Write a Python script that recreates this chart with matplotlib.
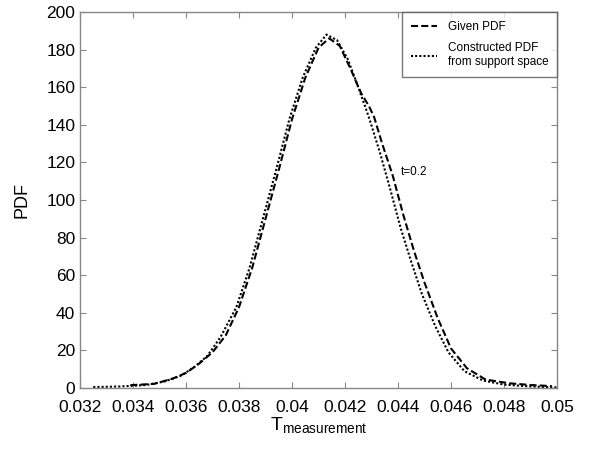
import matplotlib
matplotlib.use('Agg')
import matplotlib.pyplot as plt

plt.rcParams['font.family'] = ['Liberation Sans', 'DejaVu Sans']
plt.rcParams['mathtext.fontset'] = 'custom'
plt.rcParams['mathtext.rm'] = 'Liberation Sans'

# Given PDF (dashed curve)
given_x = [0.0339, 0.0348, 0.0355, 0.0360, 0.0365, 0.0370, 0.0375, 0.0380, 0.0385,
           0.0390, 0.0395, 0.0400, 0.0405, 0.0410, 0.0414, 0.0418, 0.0422, 0.0426,
           0.0429, 0.0431, 0.0434, 0.0438, 0.0442, 0.0446, 0.0450, 0.0455, 0.0460,
           0.0466, 0.0473, 0.0482, 0.0490, 0.0498]
given_y = [1.5, 2.2, 5, 8, 13, 19, 28, 43, 64,
           90, 116, 143, 165, 181, 186, 182, 170, 157,
           150, 144, 130, 113, 92, 73, 56, 37, 21,
           10.5, 4.5, 2.5, 1.6, 1.0]

# Constructed PDF from support space (dotted curve)
constr_x = [0.0325, 0.0335, 0.0345, 0.0352, 0.0358, 0.0363, 0.0368, 0.0373, 0.0379,
            0.0384, 0.0389, 0.0394, 0.0399, 0.0404, 0.0409, 0.0413, 0.0417, 0.0421,
            0.0425, 0.0429, 0.0433, 0.0437, 0.0441, 0.0445, 0.0449, 0.0454, 0.0459,
            0.0465, 0.0472, 0.0480, 0.0490, 0.0500]
constr_y = [0.5, 0.8, 1.6, 3.5, 6.5, 11, 17, 27, 43,
            64, 90, 116, 143, 165, 181, 188, 185, 175,
            160, 144, 126, 106, 85, 67, 50, 33, 19,
            9, 4, 1.8, 0.8, 0.3]

fig = plt.figure(figsize=(5.89, 4.51), dpi=100)
ax = fig.add_axes([0.1358, 0.1397, 0.81, 0.8337])

ax.plot(given_x, given_y, color='black', lw=1.5, linestyle=(0, (3.4, 1.5)), label='Given PDF')
ax.plot(constr_x, constr_y, color='black', lw=1.5, linestyle=(0, (1, 1)),
        label='Constructed PDF\nfrom support space')

ax.text(0.0441, 115, 't=0.2', fontsize=8.5, ha='left', va='center')

ax.set_xlim(0.032, 0.05)
ax.set_ylim(0, 200)
ax.set_xticks([0.032, 0.034, 0.036, 0.038, 0.04, 0.042, 0.044, 0.046, 0.048, 0.05])
ax.set_xticklabels(['0.032', '0.034', '0.036', '0.038', '0.04', '0.042', '0.044',
                    '0.046', '0.048', '0.05'])
ax.set_yticks(range(0, 201, 20))

for s in ax.spines.values():
    s.set_color('#888888')
    s.set_linewidth(1.0)
ax.tick_params(direction='in', top=True, right=True, color='#888888',
               labelsize=12.5, length=4)
ax.tick_params(axis='x', pad=9)

ax.set_xlabel(r'$\mathregular{T_{measurement}}$', fontsize=14, labelpad=0)
ax.set_ylabel('PDF', fontsize=13, labelpad=11)

leg = ax.legend(loc='upper right', fontsize=8.5, frameon=True, fancybox=False,
                handlelength=2.2, handletextpad=0.9, borderaxespad=0.0,
                borderpad=0.75, labelspacing=0.8)
leg.get_frame().set_edgecolor('#555555')
leg.get_frame().set_linewidth(1.0)

fig.savefig('out.png', dpi=100)
